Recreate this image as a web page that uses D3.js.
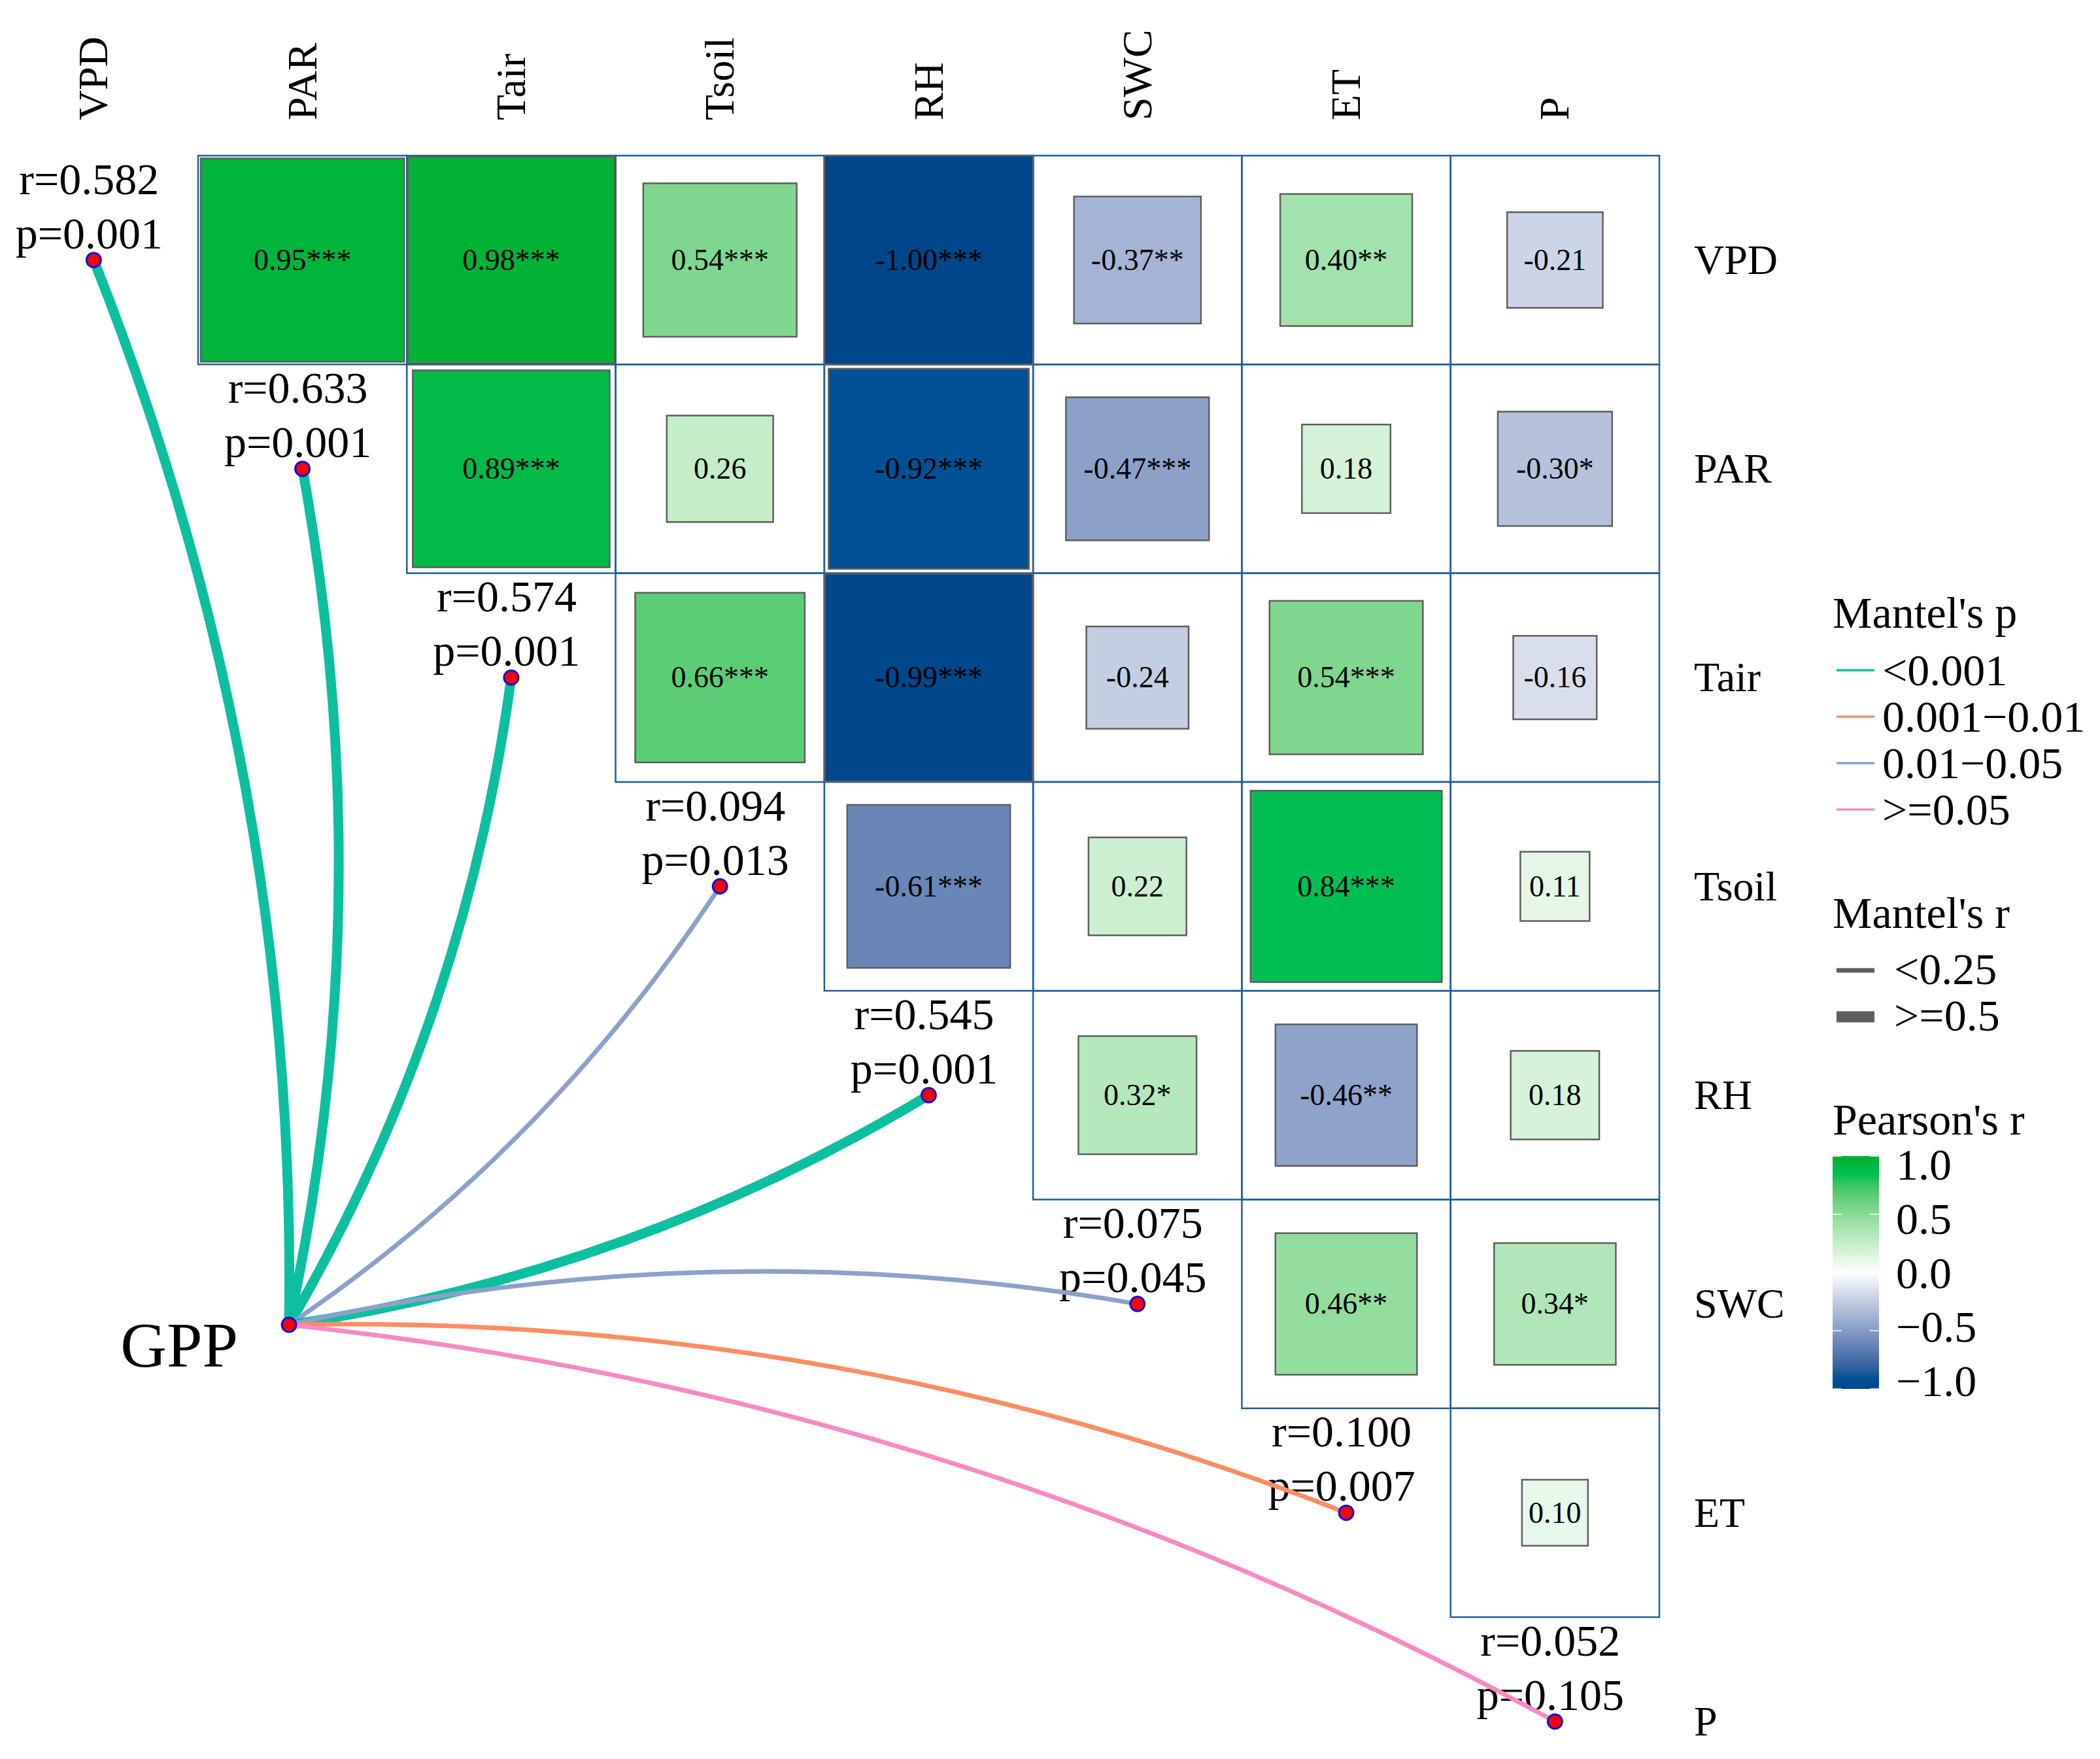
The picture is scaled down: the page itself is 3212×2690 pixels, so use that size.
<!DOCTYPE html>
<html><head><meta charset="utf-8">
<script src="https://cdn.jsdelivr.net/npm/d3@7"></script>
<style>
body{margin:0;background:#fff}
text{font-family:"Liberation Serif","Times New Roman",serif;fill:#000}
</style>
</head><body>
<svg id="chart" width="3212" height="2690"></svg>
<script>
// ---------------- data ----------------
const vars = ["VPD","PAR","Tair","Tsoil","RH","SWC","ET","P"];
// Pearson r, upper triangle, row by row (row i vs columns i+1..)
const pearsonRows = [
  [0.95, 0.98, 0.54, -1.00, -0.37, 0.40, -0.21],
  [0.89, 0.26, -0.92, -0.47, 0.18, -0.30],
  [0.66, -0.99, -0.24, 0.54, -0.16],
  [-0.61, 0.22, 0.84, 0.11],
  [0.32, -0.46, 0.18],
  [0.46, 0.34],
  [0.10]
];
const pearsonStars = [
  ["***","***","***","***","**","**",""],
  ["***","","***","***","","*"],
  ["***","***","","***",""],
  ["***","","***",""],
  ["*","**",""],
  ["**","*"],
  [""]
];
const specName = "GPP";
const mantelR = [0.582, 0.633, 0.574, 0.094, 0.545, 0.075, 0.100, 0.052];
const mantelP = [0.001, 0.001, 0.001, 0.013, 0.001, 0.045, 0.007, 0.105];
const pBreaks = [0.001, 0.01, 0.05];
const pLabels = ["<0.001", "0.001\u22120.01", "0.01\u22120.05", ">=0.05"];
const rBreaks = [0.25, 0.5];
const rLabels = ["<0.25", "0.25\u22120.5", ">=0.5"];
const rLegendShown = ["<0.25", ">=0.5"];
const colorTicks = [1.0, 0.5, 0.0, -0.5, -1.0];

// ---------------- styles / layout ----------------
const pColors = ["#0CBF9F", "#FC8D62", "#8DA0CB", "#F78AC6"];
const rWidths = [7, 11, 15];
const rLegendWidths = [7, 17];
const fillStops = [-1, -0.9, 0, 0.82, 1];
const fillColors = ["#00468B", "#005397", "#FFFFFF", "#00C056", "#00B030"];
const gridCol = "#1F5E99";

const svg = d3.select("#chart");
const x = d3.scaleBand().domain(vars).range([-16.3, 2538]);
const y = d3.scaleBand().domain(vars).range([238, 238 + 8 * 319.29]);
const bw = x.bandwidth();
const fill = d3.scaleLinear().domain(fillStops).range(fillColors).interpolate(d3.interpolateLab).clamp(true);
const size = d3.scaleSqrt().domain([0, 1]).range([0, bw]);
const pCat = d3.scaleThreshold().domain(pBreaks.map(v => v + 1e-9)).range(pColors);
const rCat = d3.scaleThreshold().domain(rBreaks).range(rWidths);

// ---------------- cells ----------------
const cells = [];
pearsonRows.forEach((row, i) => row.forEach((r, k) => {
  const j = i + 1 + k;
  cells.push({row: vars[i], col: vars[j], r, stars: pearsonStars[i][k]});
}));

const gCells = svg.append("g");
gCells.selectAll("rect.grid").data(cells).join("rect").attr("class", "grid")
  .attr("x", d => x(d.col)).attr("y", d => y(d.row))
  .attr("width", bw).attr("height", bw)
  .attr("fill", "none").attr("stroke", gridCol).attr("stroke-width", 2.5);
gCells.selectAll("rect.val").data(cells).join("rect").attr("class", "val")
  .attr("x", d => x(d.col) + (bw - size(Math.abs(d.r))) / 2)
  .attr("y", d => y(d.row) + (bw - size(Math.abs(d.r))) / 2)
  .attr("width", d => size(Math.abs(d.r))).attr("height", d => size(Math.abs(d.r)))
  .attr("fill", d => fill(d.r)).attr("stroke", "#5E5E5E").attr("stroke-width", 2.5);
gCells.selectAll("text").data(cells).join("text")
  .attr("x", d => x(d.col) + bw / 2).attr("y", d => y(d.row) + bw / 2)
  .attr("dy", "0.33em").attr("text-anchor", "middle").attr("font-size", 46)
  .text(d => d.r.toFixed(2) + d.stars);

// ---------------- axis labels ----------------
svg.append("g").selectAll("text").data(vars).join("text")
  .attr("transform", d => `translate(${x(d) + bw / 2},184) rotate(-90)`)
  .attr("dy", "0.33em").attr("text-anchor", "start").attr("font-size", 64)
  .text(d => d);
svg.append("g").selectAll("text").data(vars).join("text")
  .attr("x", 2591).attr("y", d => y(d) + bw / 2)
  .attr("dy", "0.33em").attr("text-anchor", "start").attr("font-size", 64)
  .text(d => d);

// ---------------- mantel links ----------------
const spec = {x: 442, y: 2026};
const links = vars.map((v, i) => ({
  v, r: mantelR[i], p: mantelP[i],
  ex: x(v) + bw / 2, ey: y(v) + bw / 2
}));
function linkPath(d) {
  const dx = d.ex - spec.x, dy = d.ey - spec.y;
  const L = Math.hypot(dx, dy);
  const sgn = (spec.y - d.ey) > bw / 2 ? 1 : -1;
  const c = 0.10 * L * sgn;
  const cx = (spec.x + d.ex) / 2 + (-dy / L) * c;
  const cy = (spec.y + d.ey) / 2 + (dx / L) * c;
  const p = d3.path();
  p.moveTo(spec.x, spec.y);
  p.quadraticCurveTo(cx, cy, d.ex, d.ey);
  return p.toString();
}
const gLab = svg.append("g");
gLab.selectAll("text.r").data(links).join("text").attr("class", "r")
  .attr("x", d => d.ex - 7).attr("y", d => d.ey - 101)
  .attr("text-anchor", "middle").attr("font-size", 68)
  .text(d => "r=" + d.r.toFixed(3));
gLab.selectAll("text.p").data(links).join("text").attr("class", "p")
  .attr("x", d => d.ex - 7).attr("y", d => d.ey - 18)
  .attr("text-anchor", "middle").attr("font-size", 68)
  .text(d => "p=" + d.p.toFixed(3));

svg.append("g").selectAll("path").data(links).join("path")
  .attr("d", linkPath).attr("fill", "none")
  .attr("stroke", d => pCat(d.p)).attr("stroke-width", d => rCat(d.r))
  .attr("stroke-linecap", "butt");

const gNodes = svg.append("g");
gNodes.selectAll("circle").data(links).join("circle")
  .attr("cx", d => d.ex).attr("cy", d => d.ey).attr("r", 11)
  .attr("fill", "#FF0000").attr("stroke", "#1010E0").attr("stroke-width", 3);
gNodes.append("circle").attr("cx", spec.x).attr("cy", spec.y).attr("r", 11)
  .attr("fill", "#FF0000").attr("stroke", "#1010E0").attr("stroke-width", 3);
svg.append("text").attr("x", spec.x - 78).attr("y", spec.y + 64)
  .attr("text-anchor", "end").attr("font-size", 98).text(specName);

// ---------------- legends ----------------
const lg = svg.append("g");
lg.append("text").attr("x", 2803).attr("y", 960).attr("font-size", 68).text("Mantel's p");
pLabels.forEach((lab, i) => {
  const by = 1048 + i * 71;
  lg.append("line").attr("x1", 2809).attr("x2", 2867).attr("y1", by - 23).attr("y2", by - 23)
    .attr("stroke", pColors[i]).attr("stroke-width", 3.5);
  lg.append("text").attr("x", 2879).attr("y", by).attr("font-size", 68).text(lab);
});
lg.append("text").attr("x", 2803).attr("y", 1419).attr("font-size", 68).text("Mantel's r");
rLegendShown.forEach((lab, i) => {
  const by = 1505 + i * 71;
  lg.append("line").attr("x1", 2809).attr("x2", 2867).attr("y1", by - 21).attr("y2", by - 21)
    .attr("stroke", "#5E5E5E").attr("stroke-width", rLegendWidths[i]);
  lg.append("text").attr("x", 2897).attr("y", by).attr("font-size", 68).text(lab);
});
lg.append("text").attr("x", 2803).attr("y", 1735).attr("font-size", 68).text("Pearson's r");

const cb = d3.scaleLinear().domain([-1, 1]).range([2124, 1768]);
const cbLab = d3.scaleLinear().domain([-1, 1]).range([2112, 1781]);
const defs = svg.append("defs");
const grad = defs.append("linearGradient").attr("id", "cbar")
  .attr("x1", 0).attr("y1", 1).attr("x2", 0).attr("y2", 0);
d3.range(0, 1.0001, 0.025).forEach(t => {
  grad.append("stop").attr("offset", t).attr("stop-color", fill(-1 + 2 * t));
});
lg.append("rect").attr("x", 2803).attr("y", cb(1)).attr("width", 71).attr("height", cb(-1) - cb(1))
  .attr("fill", "url(#cbar)");
colorTicks.forEach(t => {
  lg.append("line").attr("x1", 2803).attr("x2", 2817).attr("y1", cb(t)).attr("y2", cb(t))
    .attr("stroke", "#fff").attr("stroke-width", 1.5);
  lg.append("line").attr("x1", 2860).attr("x2", 2874).attr("y1", cb(t)).attr("y2", cb(t))
    .attr("stroke", "#fff").attr("stroke-width", 1.5);
  lg.append("text").attr("x", 2900).attr("y", cbLab(t)).attr("dy", "0.34em").attr("font-size", 68)
    .text(d3.format(".1f")(t).replace("-", "\u2212"));
});
</script>
</body></html>
